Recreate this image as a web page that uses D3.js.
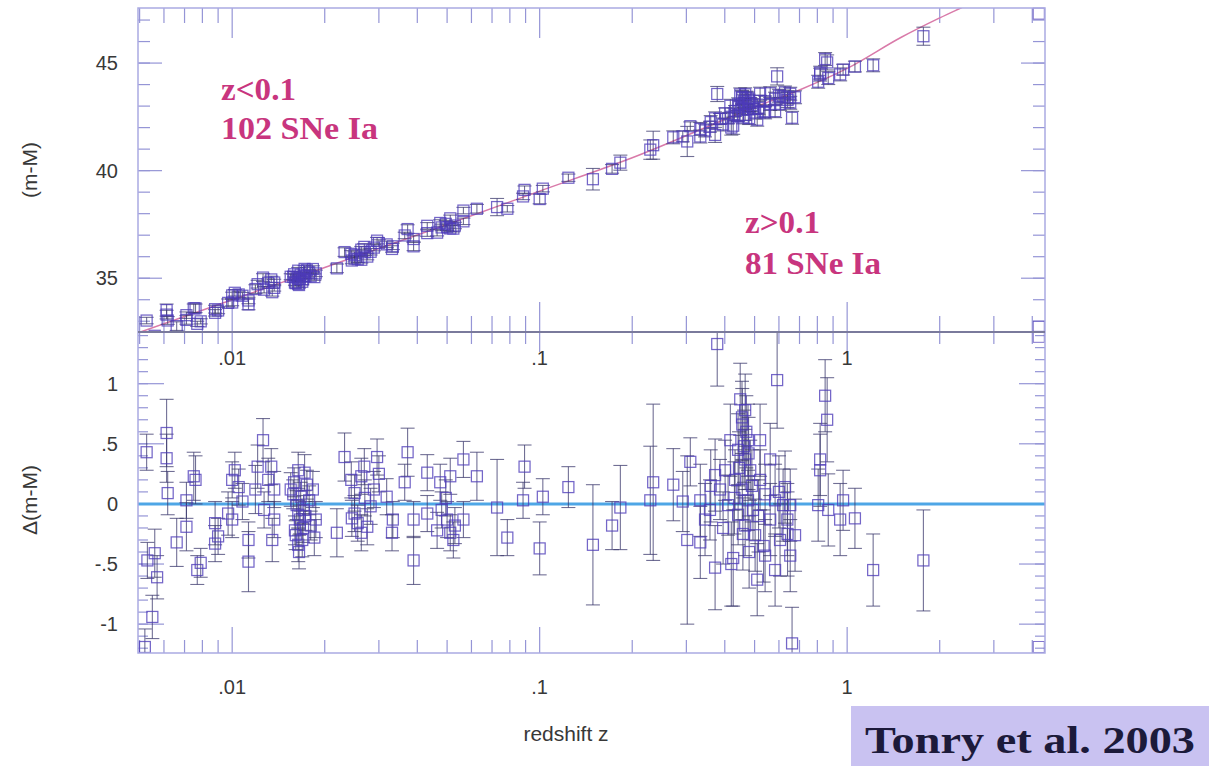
<!DOCTYPE html>
<html>
<head>
<meta charset="utf-8">
<script src="https://cdn.jsdelivr.net/npm/d3@7"></script>
<style>
  body { margin: 0; background: #fff; }
  svg { display: block; }
</style>
</head>
<body>
<div id="chart"></div>
<script>
// supernova redshifts
var zVals = [
  0.00527, 0.00612, 0.00612, 0.00617, 0.0056, 0.0057, 0.0055, 0.0052, 0.0053,
  0.0075, 0.0076, 0.0071, 0.0071, 0.0079, 0.0077, 0.0088, 0.0088, 0.0090,
  0.0100, 0.0102, 0.0097, 0.0100, 0.0105, 0.0113, 0.0113, 0.0126, 0.0121,
  0.0134, 0.0137, 0.0131, 0.0119, 0.0135, 0.0137,
  0.0158, 0.0162, 0.0164, 0.0166, 0.0160, 0.0169, 0.0164, 0.0171, 0.0155,
  0.0178, 0.0175, 0.0164, 0.0180, 0.0161, 0.0167,
  0.0183, 0.0187, 0.0185, 0.0172, 0.0219, 0.0232, 0.0244, 0.0250, 0.0263,
  0.0269, 0.0296, 0.0250, 0.0256, 0.0263, 0.0275, 0.0289, 0.0318, 0.0331,
  0.0333, 0.0372, 0.0364, 0.0389, 0.0389, 0.0431, 0.0431, 0.0475, 0.0512,
  0.0500, 0.0512, 0.0524, 0.0464, 0.0565, 0.0625, 0.0565, 0.0727, 0.0785,
  0.0893, 0.0883, 0.1000, 0.1024,
  0.0165, 0.0170, 0.0159, 0.0173, 0.0245, 0.0270, 0.0282, 0.0300, 0.0480,
  0.0530, 0.0495, 0.0108, 0.0127, 0.0066,
  0.124, 0.149, 0.183, 0.172, 0.234, 0.229, 0.272, 0.309, 0.302, 0.292,
  0.378, 0.592, 0.372, 0.426, 0.510, 0.662, 0.653, 0.639,
  0.449, 0.466, 0.456, 0.476, 0.442, 0.466, 0.484, 0.432, 0.456, 0.476,
  0.494, 0.442, 0.466, 0.502, 0.410, 0.386, 0.401, 0.521, 0.541, 0.562,
  0.521, 0.417, 0.372, 0.345, 0.333, 0.358, 0.562, 0.583, 0.605, 0.619,
  0.628, 0.541, 0.583, 0.677, 0.653, 0.333,
  0.861, 0.817, 0.817, 0.805, 0.868, 0.970, 0.949, 1.06, 1.215, 1.77, 0.848,
  0.455, 0.470, 0.462, 0.478, 0.445, 0.490, 0.430, 0.515, 0.458, 0.535,
  0.395, 0.600, 0.640, 0.360, 0.480, 0.420
];
// residuals from the fit, Δ(m-M)
var dmu = [
  0.43, 0.59, 0.38, 0.09, -0.41, -0.61, -0.94, -1.19, -0.47,
  0.23, 0.20, -0.19, 0.03, -0.49, -0.55, -0.16, -0.33, -0.27,
  0.20, 0.28, -0.08, -0.13, 0.14, -0.48, -0.30, 0.53, 0.31,
  0.31, 0.12, 0.20, 0.12, -0.30, -0.13,
  0.08, -0.01, -0.09, -0.13, -0.22, -0.30, -0.34, -0.05, 0.12,
  0.03, 0.16, 0.28, -0.18, -0.26, 0.06,
  0.12, -0.13, -0.28, 0.26, -0.24, 0.39, 0.20, 0.09, 0.23,
  0.31, 0.39, -0.08, -0.16, -0.24, -0.19, 0.12, 0.06, -0.24,
  -0.13, 0.43, 0.18, -0.13, -0.47, -0.08, 0.26, 0.18, 0.23,
  -0.13, -0.24, -0.30, -0.22, -0.13, 0.23, 0.37, -0.03, -0.28,
  0.31, 0.03, -0.37, 0.06,
  -0.40, -0.20, 0.18, -0.10, -0.12, 0.05, -0.02, 0.25, -0.05,
  -0.18, 0.05, 0.02, -0.05, -0.32,
  0.14, -0.34, -0.03, -0.18, 0.18, 0.03, 0.16, 0.35, -0.30, 0.02,
  1.33, 1.03, -0.53, -0.45, -0.63, -1.16, -0.43, -0.13,
  0.87, 0.78, 0.66, 0.53, 0.45, 0.37, 0.28, 0.20, 0.12, 0.03,
  -0.05, -0.09, -0.18, -0.26, -0.01, 0.12, 0.28, 0.20, 0.08, 0.37,
  0.53, 0.53, 0.24, -0.13, 0.03, -0.05, -0.13, 0.03, -0.30, -0.01,
  0.14, -0.43, -0.55, -0.26, -0.01, -0.32,
  0.70, 0.37, 0.28, -0.01, -0.05, 0.03, -0.13, -0.12, -0.55, -0.47, 0.90,
  0.72, 0.60, 0.48, 0.42, 0.30, 0.15, 0.05, -0.10, -0.25, -0.35,
  -0.20, 0.10, -0.25, 0.15, -0.40, -0.50
];
// one-sigma error bars
var dmuErr = [
  0.15, 0.28, 0.20, 0.18, 0.20, 0.18, 0.18, 0.15, 0.15,
  0.20, 0.20, 0.20, 0.15, 0.12, 0.12, 0.18, 0.15, 0.15,
  0.15, 0.15, 0.18, 0.15, 0.15, 0.25, 0.15, 0.18, 0.18,
  0.15, 0.15, 0.18, 0.20, 0.18, 0.15,
  0.12, 0.12, 0.12, 0.12, 0.12, 0.14, 0.14, 0.12, 0.14,
  0.12, 0.12, 0.15, 0.12, 0.12, 0.12,
  0.15, 0.15, 0.15, 0.15, 0.20, 0.20, 0.15, 0.15, 0.15,
  0.15, 0.15, 0.15, 0.15, 0.15, 0.15, 0.15, 0.15, 0.15,
  0.15, 0.20, 0.15, 0.15, 0.20, 0.15, 0.15, 0.15, 0.15,
  0.15, 0.15, 0.15, 0.15, 0.15, 0.20, 0.15, 0.40, 0.15,
  0.18, 0.15, 0.22, 0.15,
  0.14, 0.12, 0.12, 0.12, 0.15, 0.15, 0.15, 0.15, 0.15,
  0.15, 0.15, 0.15, 0.15, 0.20,
  0.17, 0.50, 0.35, 0.20, 0.65, 0.45, 0.30, 0.20, 0.70, 0.25,
  0.35, 0.40, 0.35, 0.40, 0.30, 0.30, 0.30, 0.30,
  0.30, 0.30, 0.30, 0.30, 0.30, 0.25, 0.25, 0.25, 0.25, 0.25,
  0.25, 0.25, 0.25, 0.30, 0.25, 0.25, 0.25, 0.25, 0.25, 0.30,
  0.30, 0.30, 0.30, 0.30, 0.30, 0.25, 0.30, 0.30, 0.30, 0.30,
  0.30, 0.30, 0.30, 0.30, 0.30, 0.30,
  0.35, 0.30, 0.30, 0.30, 0.30, 0.25, 0.30, 0.25, 0.30, 0.42, 0.30,
  0.30, 0.30, 0.30, 0.30, 0.30, 0.30, 0.30, 0.30, 0.30, 0.30,
  0.30, 0.30, 0.35, 0.30, 0.30, 0.35
];

// fitted cosmology curve
var fitZ  = [0.004, 0.01, 0.02, 0.05, 0.1, 0.2, 0.5, 0.7, 1.0, 1.5, 2.0, 2.5, 3.0];
var fitMu = [32.0, 34.0, 35.5, 37.5, 39.05, 40.6, 42.95, 43.75, 44.75, 46.2, 47.1, 47.75, 48.3];

// markers sitting on the right frame
var edgeZ = [4.2, 4.2];
var edgeMu = [47.3, 32.75];
var edgeRes = [1.39, -1.19];

var xMajor = [0.01, 0.1, 1];
var xLabels = [".01", ".1", "1"];
var muTicks = [35, 40, 45];
var resTicks = [1, 0.5, 0, -0.5, -1];
var resLabels = ["1", ".5", "0", "-.5", "-1"];

var W = 1209, H = 766;
var L = 138, R = 1045, T = 8, MID = 332, B = 653;

var svg = d3.select("#chart").append("svg")
    .attr("width", W).attr("height", H);

var x = d3.scaleLog().domain([0.00494, 4.4]).range([L, R]);
var yTop = d3.scaleLinear().domain([32.5, 47.56]).range([MID, T]);
var yBot = d3.scaleLinear().domain([-1.24, 1.43]).range([B, MID]);
var fit = d3.scaleLog().domain(fitZ).range(fitMu);

var frameCol = "#aaaae2", tickCol = "#9595d6";
var sqCol = "#4d3bb8", barCol = "#3a386c";

var defs = svg.append("defs");
defs.append("clipPath").attr("id", "clipTop")
  .append("rect").attr("x", L).attr("y", T).attr("width", R - L).attr("height", MID - T);
defs.append("clipPath").attr("id", "clipBot")
  .append("rect").attr("x", L).attr("y", MID).attr("width", R - L).attr("height", B - MID);

var points = zVals.map(function (z, i) {
  return { z: z, r: dmu[i], e: dmuErr[i], mu: fit(z) + dmu[i] };
});

// ---- ticks ----
var xMinor = x.ticks().filter(function (t) {
  return xMajor.indexOf(+t.toPrecision(3)) < 0;
});

function xTicks(y0, dir, lenMajor, lenMinor) {
  var g = svg.append("g").attr("stroke", tickCol).attr("stroke-width", 1.2);
  g.selectAll("line.mi").data(xMinor).join("line")
    .attr("x1", d => x(d)).attr("x2", d => x(d))
    .attr("y1", y0).attr("y2", y0 + dir * lenMinor);
  g.selectAll("line.ma").data(xMajor).join("line")
    .attr("x1", d => x(d)).attr("x2", d => x(d))
    .attr("y1", y0).attr("y2", y0 + dir * lenMajor);
}
xTicks(T, 1, 30, 15);
xTicks(MID, -1, 30, 16);
xTicks(MID, 1, 20, 12);
xTicks(B, -1, 26, 13);

function yTicks(scale, minor, major, lenMajor, lenMinor) {
  var g = svg.append("g").attr("stroke", tickCol).attr("stroke-width", 1.2);
  [L, R].forEach(function (x0) {
    var dir = x0 === L ? 1 : -1;
    g.selectAll(null).data(minor).join("line")
      .attr("x1", x0).attr("x2", x0 + dir * lenMinor)
      .attr("y1", d => scale(d)).attr("y2", d => scale(d));
    g.selectAll(null).data(major).join("line")
      .attr("x1", x0).attr("x2", x0 + dir * lenMajor)
      .attr("y1", d => scale(d)).attr("y2", d => scale(d));
  });
}
yTicks(yTop, d3.range(33, 48, 1), muTicks, 24, 12);
yTicks(yBot, d3.range(-12, 15, 1).map(d => d / 10), resTicks, 26, 10);

// ---- top panel ----
var gTop = svg.append("g").attr("clip-path", "url(#clipTop)");

gTop.append("path")
  .datum(fitZ.map((z, i) => [z, fitMu[i]]))
  .attr("fill", "none").attr("stroke", "#d97aa9").attr("stroke-width", 1.5)
  .attr("d", d3.line().x(d => x(d[0])).y(d => yTop(d[1])).curve(d3.curveMonotoneX));

function drawPoints(g, data, xf, yf, ef) {
  var eb = g.append("g").attr("stroke", barCol).attr("stroke-opacity", 0.72).attr("stroke-width", 1.1);
  eb.selectAll("line.v").data(data).join("line")
    .attr("x1", xf).attr("x2", xf)
    .attr("y1", d => ef(d)[0]).attr("y2", d => ef(d)[1]);
  eb.selectAll("line.c1").data(data).join("line")
    .attr("x1", d => xf(d) - 7).attr("x2", d => xf(d) + 7)
    .attr("y1", d => ef(d)[0]).attr("y2", d => ef(d)[0]);
  eb.selectAll("line.c2").data(data).join("line")
    .attr("x1", d => xf(d) - 7).attr("x2", d => xf(d) + 7)
    .attr("y1", d => ef(d)[1]).attr("y2", d => ef(d)[1]);
  g.append("g").selectAll("rect").data(data).join("rect")
    .attr("x", d => xf(d) - 5.5).attr("y", d => yf(d) - 5.5)
    .attr("width", 11).attr("height", 11)
    .attr("fill", "none").attr("stroke", sqCol)
    .attr("stroke-opacity", 0.78).attr("stroke-width", 1.25);
}

drawPoints(gTop, points, d => x(d.z), d => yTop(d.mu),
  d => [yTop(d.mu + d.e), yTop(d.mu - d.e)]);

// ---- bottom panel ----
var gBot = svg.append("g").attr("clip-path", "url(#clipBot)");
gBot.append("line")
  .attr("x1", L).attr("x2", R).attr("y1", yBot(0)).attr("y2", yBot(0))
  .attr("stroke", "#4ea6e6").attr("stroke-width", 3);

drawPoints(gBot, points, d => x(d.z), d => yBot(d.r),
  d => [yBot(d.r + d.e), yBot(d.r - d.e)]);

// edge markers
var edges = edgeZ.map((z, i) => ({ z: z, mu: edgeMu[i], r: edgeRes[i] }));
svg.append("g").selectAll("rect").data(edges.concat(edges)).join("rect")
  .attr("x", d => x(d.z) - 5.5)
  .attr("y", (d, i) => (i < 2 ? yTop(d.mu) : yBot(d.r)) - 5.5)
  .attr("width", 11).attr("height", 11)
  .attr("fill", "none").attr("stroke", sqCol).attr("stroke-opacity", 0.7);

// ---- frame ----
svg.append("rect")
  .attr("x", L).attr("y", T).attr("width", R - L).attr("height", B - T)
  .attr("fill", "none").attr("stroke", frameCol).attr("stroke-width", 1.5);
svg.append("line")
  .attr("x1", L).attr("x2", R).attr("y1", MID).attr("y2", MID)
  .attr("stroke", "#7a7a9c").attr("stroke-width", 2);

// ---- labels ----
var sans = "'Liberation Sans', Arial, Helvetica, sans-serif";
var serif = "'Liberation Serif', 'Times New Roman', Times, serif";

svg.append("g").selectAll("text").data(muTicks).join("text")
  .attr("x", 118).attr("y", d => yTop(d) + 7)
  .attr("text-anchor", "end").attr("font-family", sans).attr("font-size", 20)
  .attr("fill", "#383838").text(d => d);

svg.append("g").selectAll("text").data(resTicks).join("text")
  .attr("x", 118).attr("y", d => yBot(d) + 7)
  .attr("text-anchor", "end").attr("font-family", sans).attr("font-size", 20)
  .attr("fill", "#383838").text((d, i) => resLabels[i]);

[365, 694].forEach(function (yy) {
  svg.append("g").selectAll("text").data(xMajor).join("text")
    .attr("x", d => x(d)).attr("y", yy)
    .attr("text-anchor", "middle").attr("font-family", sans).attr("font-size", 20)
    .attr("fill", "#383838").text((d, i) => xLabels[i]);
});

svg.append("text")
  .attr("transform", "translate(37,170) rotate(-90)")
  .attr("text-anchor", "middle").attr("font-family", sans).attr("font-size", 21)
  .attr("fill", "#383838").text("(m-M)");
svg.append("text")
  .attr("transform", "translate(37,500) rotate(-90)")
  .attr("text-anchor", "middle").attr("font-family", sans).attr("font-size", 21)
  .attr("fill", "#383838").text("\u0394(m-M)");

svg.append("text")
  .attr("x", 566).attr("y", 741)
  .attr("text-anchor", "middle").attr("font-family", sans).attr("font-size", 21)
  .attr("fill", "#383838").text("redshift z");

// annotations
var pink = "#c8357e";
function note(xx, yy, txt, len) {
  svg.append("text").attr("x", xx).attr("y", yy)
    .attr("font-family", serif).attr("font-weight", "bold").attr("font-size", 31)
    .attr("fill", pink).attr("textLength", len).attr("lengthAdjust", "spacingAndGlyphs")
    .text(txt);
}
note(221, 100, "z<0.1", 75);
note(221, 139, "102 SNe Ia", 157);
note(745, 233, "z>0.1", 75);
note(745, 274, "81 SNe Ia", 136);

// citation box
svg.append("rect").attr("x", 851).attr("y", 706).attr("width", W - 851).attr("height", H - 706)
  .attr("fill", "#c9c2f1");
svg.append("text").attr("x", 1030).attr("y", 753)
  .attr("text-anchor", "middle").attr("font-family", serif).attr("font-weight", "bold")
  .attr("font-size", 38).attr("fill", "#1c1a3a")
  .attr("textLength", 330).attr("lengthAdjust", "spacingAndGlyphs")
  .text("Tonry et al. 2003");
</script>
</body>
</html>
